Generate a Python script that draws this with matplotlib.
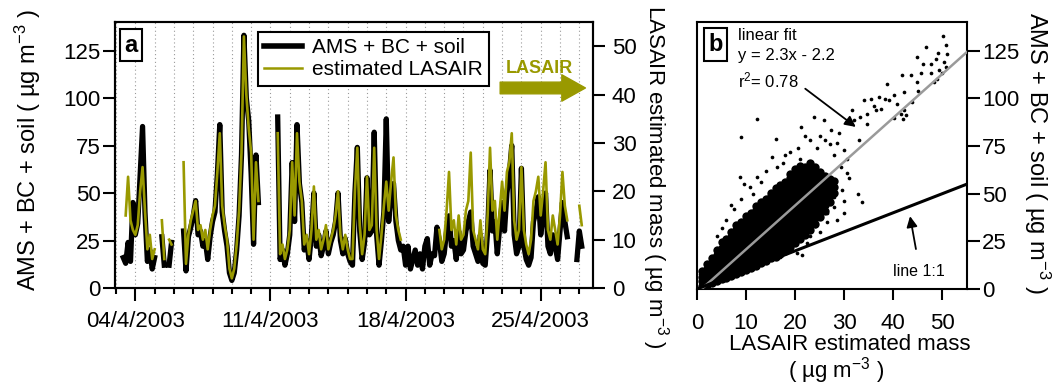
import numpy as np
import pandas as pd
import matplotlib
matplotlib.use('Agg')
from matplotlib import pyplot as plt
import matplotlib.dates as mdates

plt.rcParams['font.family'] = ['Liberation Sans', 'DejaVu Sans']
plt.rcParams['mathtext.fontset'] = 'custom'
plt.rcParams['mathtext.rm'] = 'Liberation Sans'
plt.rcParams['mathtext.it'] = 'Liberation Sans:italic'
plt.rcParams['mathtext.default'] = 'regular'

nan = np.nan

# 3-hourly values, 3 April 2003 00:00 -> 27 April 21:00 (8 per day)
ams = [
    nan, nan, nan, 16, 13, 24, 14, 45,     # 3
    28, 34, 60, 85, 40, 14, 20, 10,        # 4
    16, nan, nan, 27, 12, nan, 12, 24,     # 5
    nan, nan, nan, nan, 30, 9, 27, 32,     # 6
    38, 46, 28, 30, 22, 25, 15, 27,        # 7
    35, 40, 60, 86, 40, 30, 22, 8,         # 8
    4, 8, 20, 38, 70, 133, 100, 88,        # 9
    60, 23, 70, 45, nan, nan, nan, nan,    # 10
    nan, nan, nan, 90, 15, 20, 12, 18,     # 11
    28, 66, 35, 86, 55, 45, 20, 25,        # 12
    15, 28, 50, 22, 28, 17, 22, 30,        # 13
    18, 24, 28, 35, 50, 25, 18, 26,        # 14
    18, 14, 12, 50, 74, 30, 15, 24,        # 15
    58, 28, 30, 82, 28, 12, 25, 40,        # 16
    89, 35, 52, 55, 35, 25, 20, 22,        # 17
    12, 22, 10, 15, 20, 12, 18, 10,        # 18
    22, 26, 12, 18, 17, 32, 25, 14,        # 19
    18, 30, 38, 22, 25, 15, 30, 18,        # 20
    20, 30, 35, 40, 22, 18, 14, 28,        # 21
    13, 12, 30, 62, 30, 35, 18, 32,        # 22
    45, 30, 50, 60, 75, 28, 18, 22,        # 23
    63, 22, 15, 12, 16, 35, 40, 48,        # 24
    28, 38, 50, 22, 18, 28, 22, 15,        # 25
    30, 45, 35, 27, nan, nan, nan, 15,     # 26
    30, 22, nan, nan, nan, nan, nan, nan,  # 27
]

lasair = [
    nan, nan, nan, nan, 15, 23, 14, 12,    # 3
    11, 13, 20, 25, 16, 8, 11, 6,          # 4
    8, nan, nan, 14, 6, nan, 10, 9,        # 5
    nan, nan, nan, nan, 26, 5, 11, 14,     # 6
    16, 18, 12, 13, 10, 12, 8, 12,         # 7
    15, 17, 24, 32, 17, 13, 10, 4,         # 8
    2, 4, 9, 16, 28, 52, 40, 33,           # 9
    28, 10, 26, 18, nan, nan, nan, nan,    # 10
    nan, nan, nan, 32, 7, 9, 6, 8,         # 11
    12, 26, 15, 32, 22, 18, 9, 11,         # 12
    7, 12, 21, 10, 12, 8, 10, 13,          # 13
    8, 10, 12, 15, 20, 11, 8, 11,          # 14
    8, 6, 6, 20, 29, 13, 7, 11,            # 15
    23, 12, 13, 29, 12, 6, 11, 17,         # 16
    22, 16, 22, 27, 15, 12, 10, nan,       # 17
    nan, nan, nan, nan, nan, nan, nan, nan,  # 18
    nan, nan, nan, nan, nan, nan, 12, 8,   # 19
    10, 16, 24, 12, 14, 9, 15, 10,         # 20
    11, 16, 18, 28, 12, 10, 8, 14,         # 21
    8, 7, 15, 29, 16, 18, 10, 16,          # 22
    22, 16, 24, 26, 32, 14, 10, 12,        # 23
    25, 12, 9, 7, 10, 18, 20, 23,          # 24
    15, 20, 26, 12, 10, 15, 12, 9,         # 25
    15, 24, 17, 14, nan, nan, nan, nan,    # 26
    17, 13, nan, nan, nan, nan, nan, nan,  # 27
]

times = pd.date_range('2003-04-03', periods=len(ams), freq='3h')

# panel b: dense core of the scatter, one column per LASAIR value
core_lasair = list(range(1, 29))
core_ams = [
    [1.5, 4.0, 6.5, 9.5],
    [2.0, 5.0, 7.5, 10.5, 13.0],
    [3.0, 5.5, 8.5, 11.0, 14.0, 16.5],
    [4.0, 7.0, 9.5, 12.5, 15.0, 18.0, 20.5],
    [5.0, 8.0, 10.5, 13.5, 16.0, 19.0, 21.5, 24.5],
    [6.0, 9.0, 11.5, 14.5, 17.5, 20.0, 23.0, 26.0],
    [7.0, 10.0, 12.5, 15.5, 18.5, 21.5, 24.0, 27.0, 30.0],
    [8.0, 11.0, 14.0, 16.5, 19.5, 22.5, 25.5, 28.0, 31.0, 33.5],
    [9.0, 12.0, 15.0, 18.0, 20.5, 23.5, 26.5, 29.5, 32.0, 35.0],
    [10.0, 13.0, 16.0, 19.0, 22.0, 24.5, 27.5, 30.5, 33.5, 36.0, 38.5],
    [11.0, 14.0, 17.0, 20.0, 23.0, 26.0, 28.5, 31.5, 34.5, 37.5, 40.0],
    [12.0, 15.0, 18.0, 21.0, 24.0, 27.0, 30.0, 32.5, 35.5, 38.5, 41.5, 43.5],
    [13.5, 16.5, 19.5, 22.5, 25.5, 28.5, 31.5, 34.0, 37.0, 40.0, 43.0, 45.5],
    [14.5, 17.5, 20.5, 23.5, 26.5, 29.5, 32.5, 35.5, 38.0, 41.0, 44.0, 47.0],
    [16.0, 19.0, 22.0, 25.0, 28.0, 31.0, 34.0, 37.0, 40.0, 42.5, 45.5, 48.5, 50.5],
    [17.0, 20.0, 23.0, 26.0, 29.0, 32.0, 35.0, 38.0, 41.0, 44.0, 47.0, 50.0, 53.0],
    [18.5, 21.5, 24.5, 27.5, 30.5, 33.5, 36.5, 39.5, 42.5, 45.5, 48.5, 51.5, 54.5],
    [20.0, 23.0, 26.0, 29.0, 32.0, 35.0, 38.0, 41.0, 44.0, 47.0, 50.0, 53.0, 56.0],
    [22.0, 25.0, 28.0, 31.0, 34.0, 37.0, 40.0, 43.0, 46.0, 49.0, 52.0, 55.0, 58.0, 60.5],
    [24.0, 27.0, 30.0, 33.0, 36.0, 39.0, 42.0, 45.0, 48.0, 51.0, 54.0, 57.0, 60.0, 63.0],
    [26.0, 29.0, 32.0, 35.0, 38.0, 41.0, 44.0, 47.0, 50.0, 53.0, 56.0, 59.0, 62.0, 64.5],
    [28.5, 31.5, 34.5, 37.5, 40.5, 43.5, 46.5, 49.5, 52.5, 55.5, 58.5, 61.5, 64.0],
    [31.0, 34.0, 37.0, 40.0, 43.0, 46.0, 49.0, 52.0, 55.0, 58.0, 61.0, 63.5, 66.0],
    [34.0, 37.0, 40.0, 43.0, 46.0, 49.0, 52.0, 55.0, 58.0, 61.0, 64.0],
    [37.5, 40.5, 43.5, 46.5, 49.5, 52.5, 55.5, 58.5, 61.5],
    [41.0, 44.0, 47.0, 50.0, 53.0, 56.0, 59.0],
    [45.5, 48.5, 51.5, 54.5, 57.5],
    [50.5, 53.5, 56.5],
]

# panel b: scattered points outside the core
sparse_lasair = [50.2, 46.6, 50.7, 51.0, 44.9, 48.6, 47.6, 50.3, 49.3, 50.7, 43.5, 45.6,
                 47.6, 48.3, 44.9, 41.8, 50.0, 42.2, 38.8, 40.1, 38.4, 37.1, 39.1, 35.4,
                 34.0, 36.4, 37.4, 40.8, 42.5, 40.1, 34.7, 33.3, 32.0, 30.3, 42.2, 34.7,
                 12.2, 23.8, 9.0, 16.0, 21.1, 27.2, 25.9, 23.1, 28.6, 29.9, 29.3, 30.6,
                 32.7, 33.7, 28.6, 29.9, 26.5, 27.9, 8.8, 9.5, 10.9, 12.2, 15.3, 16.3,
                 15.0, 20.4, 21.4, 17.0, 2.0, 2.7, 46.0, 49.0, 48.9, 45.0, 43.8, 36.0,
                 31.5, 29.0, 25.0, 27.0, 24.5, 22.0, 19.0, 18.0, 14.0, 11.5, 7.5, 6.0,
                 5.0, 4.0, 13.0, 17.5, 20.5, 26.0, 28.0, 30.5, 31.0, 29.5, 30.0, 28.0,
                 25.0, 23.0, 22.5, 19.0, 24.0, 26.5, 9.0, 7.0, 41.5, 42.0, 33.0, 21.0,
                 0.8, 1.2, 1.6, 0.6]
sparse_ams = [132.5, 127.0, 128.0, 123.0, 121.6, 120.8, 118.0, 119.0, 114.7, 116.4, 112.0, 113.0,
              113.0, 108.5, 108.5, 112.0, 113.0, 103.3, 107.7, 101.6, 99.8, 100.7, 99.0, 99.8,
              99.0, 93.7, 94.6, 97.0, 91.0, 89.4, 92.0, 90.0, 88.5, 87.6, 93.7, 86.4,
              89.0, 90.0, 79.8, 78.9, 85.0, 83.2, 88.5, 78.0, 76.3, 72.8, 64.0, 60.6,
              50.0, 45.7, 36.0, 39.6, 39.6, 43.0, 58.8, 55.3, 53.6, 58.8, 69.3, 64.0,
              50.0, 18.7, 17.8, 17.0, 10.8, 8.2, 118.0, 124.0, 110.0, 104.0, 98.0, 96.0,
              94.0, 82.0, 80.0, 76.0, 74.0, 80.0, 72.0, 70.0, 62.0, 50.0, 42.0, 36.0,
              32.0, 28.0, 56.0, 66.0, 74.0, 78.0, 70.0, 68.0, 58.0, 52.0, 46.0, 48.0,
              30.0, 28.0, 24.0, 20.0, 33.0, 35.0, 47.0, 44.0, 92.0, 89.0, 78.0, 68.0,
              3.0, 6.0, 2.0, 8.0]

fit_slope = 2.3
fit_intercept = -2.2

olive = '#999900'

fig = plt.figure(figsize=(10.61, 3.88), dpi=100)

# ---------------- panel a: time series
ax = fig.add_axes([0.1084, 0.2577, 0.4505, 0.6856])
ax2 = ax.twinx()
l1, = ax.plot(times, ams, color='black', lw=3.8)
l2, = ax2.plot(times, lasair, color=olive, lw=1.9)

ax.set_xlim(pd.Timestamp('2003-04-02 22:45'), pd.Timestamp('2003-04-27 17:00'))
ax.set_ylim(0, 140)
ax2.set_ylim(0, 55)
ax.set_yticks([0, 25, 50, 75, 100, 125])
ax2.set_yticks([0, 10, 20, 30, 40, 50])

ax.xaxis.set_major_locator(mdates.DayLocator(bymonthday=[4, 11, 18, 25]))
ax.xaxis.set_minor_locator(mdates.DayLocator())


def datefmt(v, pos):
    d = mdates.num2date(v)
    return '%02d/%d/%d' % (d.day, d.month, d.year)


ax.xaxis.set_major_formatter(plt.FuncFormatter(datefmt))
ax.grid(which='both', axis='x', color='#9a9a9a', lw=0.8, ls=(0, (1, 2.5)))

ax.tick_params(axis='y', length=8.5, width=1.5, labelsize=16, pad=2)
ax2.tick_params(axis='y', length=8.5, width=1.5, labelsize=16, pad=5)
ax.tick_params(axis='x', which='major', length=9.5, width=1.5, labelsize=16, pad=7)
ax.tick_params(axis='x', which='minor', length=4.5, width=1.5)
for a in (ax, ax2):
    for s in a.spines.values():
        s.set_linewidth(1.5)

leg = ax2.legend([l1, l2], ['AMS + BC + soil', 'estimated LASAIR'], loc='upper left',
                 bbox_to_anchor=(0.299, 0.962), borderaxespad=0, fontsize=15,
                 fancybox=False, edgecolor='black', framealpha=1, handlelength=1.8,
                 handletextpad=0.5, borderpad=0.3, labelspacing=0.15)
leg.get_frame().set_linewidth(1.5)
leg.legend_handles[0].set_linewidth(4)
leg.legend_handles[1].set_linewidth(1.8)

ax2.annotate('', xy=(0.99, 0.752), xytext=(0.80, 0.752), xycoords='axes fraction',
             arrowprops=dict(arrowstyle='simple,head_length=0.85,head_width=0.95,tail_width=0.42',
                             fc=olive, ec=olive, mutation_scale=20, capstyle='round'))
ax2.text(0.887, 0.827, 'LASAIR', transform=ax2.transAxes, ha='center', va='center',
         fontsize=13, fontweight='bold', color=olive)

fig.text(131 / 1061, 1 - 45 / 388, 'a', ha='center', va='center', fontsize=17, fontweight='bold',
         bbox=dict(boxstyle='square,pad=0.2', fc='white', ec='black', lw=1.5))
fig.text(28 / 1061, 1 - 150 / 388, 'AMS + BC + soil ( µg m$^{-3}$ )', rotation=90,
         ha='center', va='center', fontsize=17)
fig.text(655 / 1061, 1 - 177 / 388, 'LASAIR estimated mass ( µg m$^{-3}$ )', rotation=-90,
         ha='center', va='center', fontsize=16)

# ---------------- panel b: scatter
axb = fig.add_axes([0.6569, 0.2552, 0.2545, 0.6881])
cx = [x for x, col in zip(core_lasair, core_ams) for _ in col]
cy = [y for col in core_ams for y in col]
axb.scatter(cx, cy, s=36, c='black', lw=0, zorder=2)
axb.scatter(sparse_lasair, sparse_ams, s=7, c='black', lw=0, zorder=2)

xf = np.array([-fit_intercept / fit_slope, 55])
axb.plot(xf, fit_slope * xf + fit_intercept, color='#9a9a9a', lw=1.8, zorder=3)
axb.plot([0, 55], [0, 55], color='black', lw=2.2, zorder=3)

axb.set_xlim(0, 55)
axb.set_ylim(0, 140)
axb.set_xticks([0, 10, 20, 30, 40, 50])
axb.set_yticks([0, 25, 50, 75, 100, 125])
axb.yaxis.tick_right()
axb.tick_params(axis='y', length=9, width=1.5, labelsize=16, pad=2)
axb.tick_params(axis='x', length=8, width=1.5, labelsize=16, pad=9)
for s in axb.spines.values():
    s.set_linewidth(1.5)

axb.text(8.3, 133, 'linear fit', fontsize=12, va='center')
axb.text(8.3, 122.5, 'y = 2.3x - 2.2', fontsize=12, va='center')
axb.text(8.3, 109.4, 'r$^2$= 0.78', fontsize=12, va='center')
axb.annotate('', xy=(32.8, 84.1), xytext=(21.6, 105.9),
             arrowprops=dict(arrowstyle='-|>', color='black', lw=1.3, mutation_scale=16))
axb.annotate('', xy=(43.3, 39.6), xytext=(44.7, 19.5),
             arrowprops=dict(arrowstyle='-|>', color='black', lw=1.3, mutation_scale=16))
axb.text(45.2, 9.2, 'line 1:1', fontsize=11.5, ha='center', va='center')

fig.text(715.5 / 1061, 1 - 44.5 / 388, 'b', ha='center', va='center', fontsize=17, fontweight='bold',
         bbox=dict(boxstyle='square,pad=0.2', fc='white', ec='black', lw=1.5))
fig.text(1037 / 1061, 1 - 153 / 388, 'AMS + BC + soil ( µg m$^{-3}$ )', rotation=-90,
         ha='center', va='center', fontsize=17)
fig.text(850 / 1061, 1 - 345 / 388, 'LASAIR estimated mass', ha='center', va='center', fontsize=16)
fig.text(836 / 1061, 1 - 371 / 388, '( µg m$^{-3}$ )', ha='center', va='center', fontsize=16)

fig.savefig('out.png', dpi=100, facecolor='white')
